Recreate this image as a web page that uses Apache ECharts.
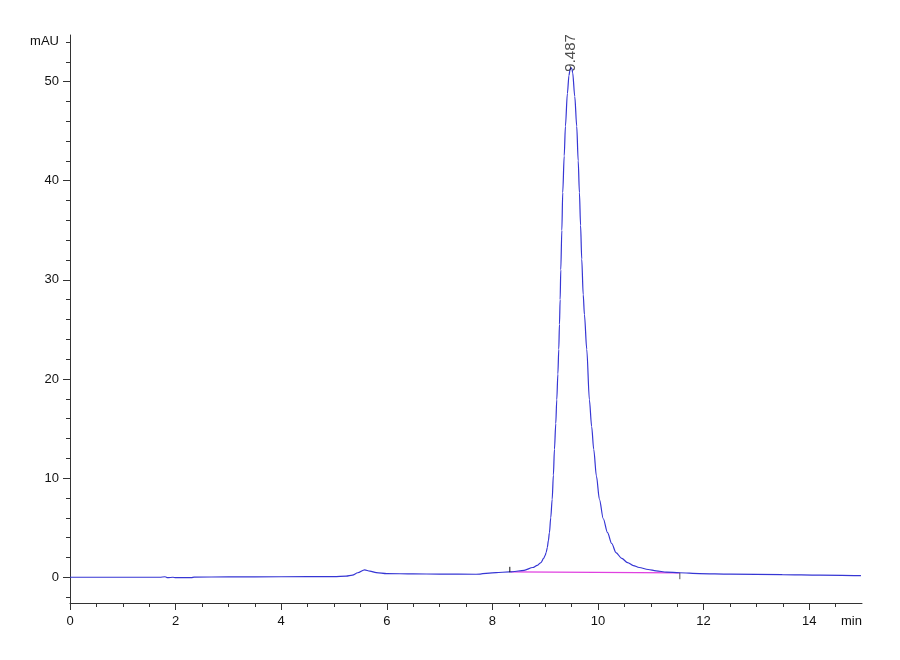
<!DOCTYPE html>
<html>
<head>
<meta charset="utf-8">
<script src="https://cdn.jsdelivr.net/npm/echarts@6/dist/echarts.min.js"></script>
<style>html,body{margin:0;padding:0;background:#fff}#c{width:900px;height:660px}</style>
</head>
<body>
<div id="c"></div>
<script>
// Chromatogram trace: retention time (min) and absorbance (mAU)
const traceTime = [0, 0.8, 1.7, 1.8, 1.85, 1.95, 2.0, 2.3, 2.35, 3.0, 4.0, 5.0, 5.23, 5.35, 5.45, 5.58, 5.68, 5.8, 6.0, 6.5, 7.0, 7.69, 8.07, 8.32,
  8.38, 8.6, 8.765, 8.85, 8.92, 8.97, 9.0, 9.018, 9.04, 9.06, 9.08, 9.105, 9.132, 9.155, 9.175, 9.2, 9.219, 9.24, 9.257, 9.27, 9.283, 9.295, 9.315, 9.332, 9.36, 9.383, 9.42, 9.45, 9.47, 9.487,
  9.505, 9.52, 9.56, 9.597, 9.625, 9.648, 9.67, 9.692, 9.72, 9.743, 9.787, 9.837, 9.88, 9.919, 9.97, 10.027, 10.1, 10.18, 10.26, 10.34, 10.45, 10.56, 10.67, 10.78, 10.95, 11.1, 11.3, 11.54,
  11.92, 12.5, 13.49, 14.2, 14.98];
const traceValue = [0, 0, 0, 0.05, -0.05, 0.0, -0.05, -0.05, 0.02, 0.03, 0.05, 0.07, 0.12, 0.22, 0.45, 0.74, 0.62, 0.47, 0.37, 0.33, 0.32, 0.3, 0.47, 0.53,
  0.55, 0.7, 0.98, 1.2, 1.48, 1.9, 2.2, 2.49, 3.0, 3.7, 4.5, 6.0, 7.86, 10.3, 12.9, 15.5, 17.9, 20.5, 23.0, 25.5, 28.0, 31.0, 35.0, 38.8, 42.5, 45.5, 48.8, 50.6, 51.2, 51.4,
  51.3, 50.9, 48.5, 45.5, 42.0, 38.8, 35.5, 32.1, 28.5, 26.5, 23.0, 17.9, 15.2, 12.9, 10.2, 7.86, 5.9, 4.5, 3.4, 2.49, 1.9, 1.48, 1.18, 0.98, 0.78, 0.64, 0.52, 0.45,
  0.37, 0.32, 0.27, 0.22, 0.17];

// Integration baseline (start, end)
const baselineTime = [8.35, 11.55];
const baselineValue = [0.53, 0.43];

// Integration event markers
const startMarkTime = [8.33, 8.33];
const startMarkValue = [0.5, 1.05];
const endMarkTime = [11.55, 11.55];
const endMarkValue = [0.43, -0.2];

// Peak annotation
const peakTime = [9.487];
const peakValue = [51.4];
const peakLabels = ['9.487'];

// Axis ticks / labels
const xLabelValues = [0, 2, 4, 6, 8, 10, 12, 14];
const xUnitLabel = 'min';
const xMinorTicks = [0.5, 1, 1.5, 2.5, 3, 3.5, 4.5, 5, 5.5, 6.5, 7, 7.5, 8.5, 9, 9.5, 10.5, 11, 11.5, 12.5, 13, 13.5, 14.5];
const yLabelValues = [0, 10, 20, 30, 40, 50];
const yUnitLabel = 'mAU';
const yMinorTicks = [-2, 2, 4, 6, 8, 12, 14, 16, 18, 22, 24, 26, 28, 32, 34, 36, 38, 42, 44, 46, 48, 52, 54];

const zip = (a, b) => a.map((v, i) => [v, b[i]]);

const font = '"Liberation Sans", Arial, sans-serif';
const axisColor = '#333';
const X_UNIT_POS = 14.8, Y_UNIT_POS = 54.1;

const chart = echarts.init(document.getElementById('c'), null, {renderer: 'canvas'});
chart.setOption({
  animation: false,
  backgroundColor: '#fff',
  grid: {left: 70, right: 38, top: 35, bottom: 57},
  xAxis: [
    {
      type: 'value', min: 0, max: 15, position: 'bottom',
      axisLine: {show: true, onZero: false, lineStyle: {color: axisColor, width: 1}},
      axisTick: {show: true, length: 7, customValues: xLabelValues, lineStyle: {color: axisColor}},
      axisLabel: {
        customValues: xLabelValues.concat([X_UNIT_POS]), margin: 12,
        fontFamily: font, fontSize: 13, color: '#111',
        formatter: v => (Math.abs(v - X_UNIT_POS) < 1e-6 ? xUnitLabel : String(v))
      },
      splitLine: {show: false}
    },
    {
      type: 'value', min: 0, max: 15, position: 'bottom',
      axisLine: {show: false, onZero: false},
      axisTick: {show: true, length: 4, customValues: xMinorTicks, lineStyle: {color: axisColor}},
      axisLabel: {show: false},
      splitLine: {show: false}
    }
  ],
  yAxis: [
    {
      type: 'value', min: -2.6, max: 54.7, position: 'left',
      axisLine: {show: true, onZero: false, lineStyle: {color: axisColor, width: 1}},
      axisTick: {show: true, length: 7, customValues: yLabelValues, lineStyle: {color: axisColor}},
      axisLabel: {
        customValues: yLabelValues.concat([Y_UNIT_POS]), margin: 11,
        fontFamily: font, fontSize: 13, color: '#111',
        formatter: v => (Math.abs(v - Y_UNIT_POS) < 1e-6 ? yUnitLabel : String(v))
      },
      splitLine: {show: false}
    },
    {
      type: 'value', min: -2.6, max: 54.7, position: 'left',
      axisLine: {show: false, onZero: false},
      axisTick: {show: true, length: 4, customValues: yMinorTicks, lineStyle: {color: axisColor}},
      axisLabel: {show: false},
      splitLine: {show: false}
    }
  ],
  series: [
    {
      type: 'line', name: 'baseline', xAxisIndex: 0, yAxisIndex: 0,
      data: zip(baselineTime, baselineValue), showSymbol: false,
      lineStyle: {color: '#e040e0', width: 1.2}, z: 2
    },
    {
      type: 'line', name: 'trace', xAxisIndex: 0, yAxisIndex: 0,
      data: zip(traceTime, traceValue), showSymbol: false,
      smooth: 0.3, smoothMonotone: 'x',
      lineStyle: {color: '#3636d4', width: 1.2}, z: 3
    },
    {
      type: 'line', name: 'startMark', data: zip(startMarkTime, startMarkValue), showSymbol: false,
      lineStyle: {color: '#111', width: 1}, z: 4
    },
    {
      type: 'line', name: 'endMark', data: zip(endMarkTime, endMarkValue), showSymbol: false,
      lineStyle: {color: '#555', width: 1}, z: 4
    },
    {
      type: 'scatter', name: 'peak', data: zip(peakTime, peakValue), symbolSize: 0.1,
      itemStyle: {color: 'transparent'},
      label: {
        show: true, position: 'top', distance: -4, rotate: 90, align: 'left', verticalAlign: 'middle',
        fontFamily: font, fontSize: 15, color: '#222',
        formatter: p => peakLabels[p.dataIndex]
      },
      z: 5
    }
  ]
});
</script>
</body>
</html>
